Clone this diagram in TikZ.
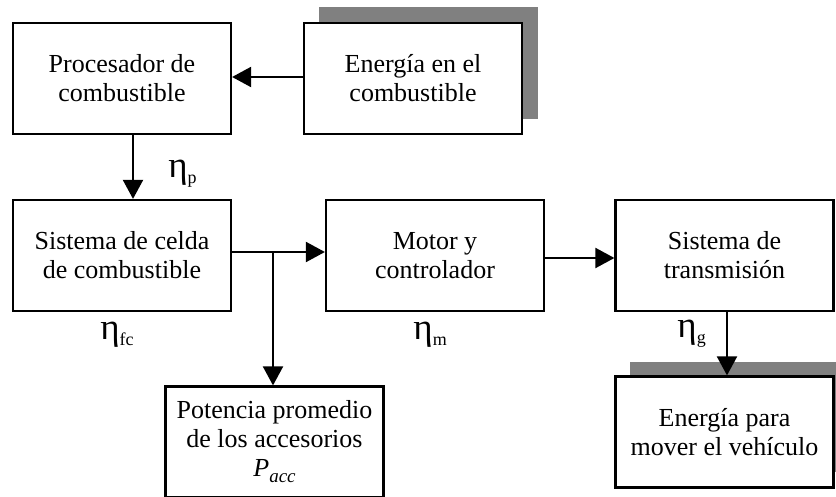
\documentclass[tikz,border=0pt]{standalone}
\usepackage{fontspec}
\setmainfont{Liberation Serif}
\usetikzlibrary{arrows.meta,calc}
\definecolor{shadowgray}{RGB}{128,128,128}
\newcommand\etalab[1]{{\fontsize{18.5}{18.5}\selectfont η}\raisebox{-0.55ex}{\fontsize{9}{9}\selectfont #1}}
\begin{document}
\begin{tikzpicture}[x=0.5pt,y=-0.5pt,
  block/.style={draw, line width=1.1pt, fill=white, minimum width=109pt, minimum height=55.5pt,
    inner sep=0pt, align=center, font=\fontsize{13}{14.5}\selectfont},
  arr/.style={line width=1pt, -{Triangle[length=9.5pt,width=10pt]}},
  lab/.style={inner sep=0pt, anchor=base west}]
\useasboundingbox (0,0) rectangle (836,497);
% shadows
\fill[shadowgray] (319,7) rectangle (538,119);
\fill[shadowgray] (630,362) rectangle (852,472);
% blocks
\node[block] (proc)  at (122,78.5)  {Procesador de\\combustible};
\node[block] (fuel)  at (413,78.5)  {Energía en el\\combustible};
\node[block] (fc)    at (122,255.5) {Sistema de celda\\de combustible};
\node[block] (motor) at (435,255.5) {Motor y\\controlador};
\node[block] (trans) at (724.5,255.5) {Sistema de\\transmisión};
\node[block] (acc)   at (274.5,442) {Potencia promedio\\de los accesorios\\\textit{P}\raisebox{-0.5ex}{\fontsize{9.5}{9.5}\selectfont\itshape acc}};
\node[block] (veh)   at (724.5,432) {Energía para\\mover el vehículo};
% connectors
\draw[arr] (fuel.west |- 0,77) -- (proc.east |- 0,77);
\draw[arr] ([xshift=5.5pt]proc.south) -- ([xshift=5.5pt]fc.north);
\draw[arr] ([yshift=1.75pt]fc.east) -- ([yshift=1.75pt]motor.west);
\coordinate (br) at (273,252);
\draw[arr] (br) -- (acc.north -| br);
\draw[arr] ([yshift=-1.25pt]motor.east) -- ([yshift=-1.25pt]trans.west);
\draw[arr] ([xshift=1.25pt]trans.south) -- ([xshift=1.25pt]veh.north);
% labels
\node[lab] (ep)  at (168,178) {\etalab{p}};
\node[lab] (efc) at (100,340) {\etalab{fc}};
\node[lab] (em)  at (413,340) {\etalab{m}};
\node[lab] (eg)  at (677,338) {\etalab{g}};
\end{tikzpicture}
\end{document}
